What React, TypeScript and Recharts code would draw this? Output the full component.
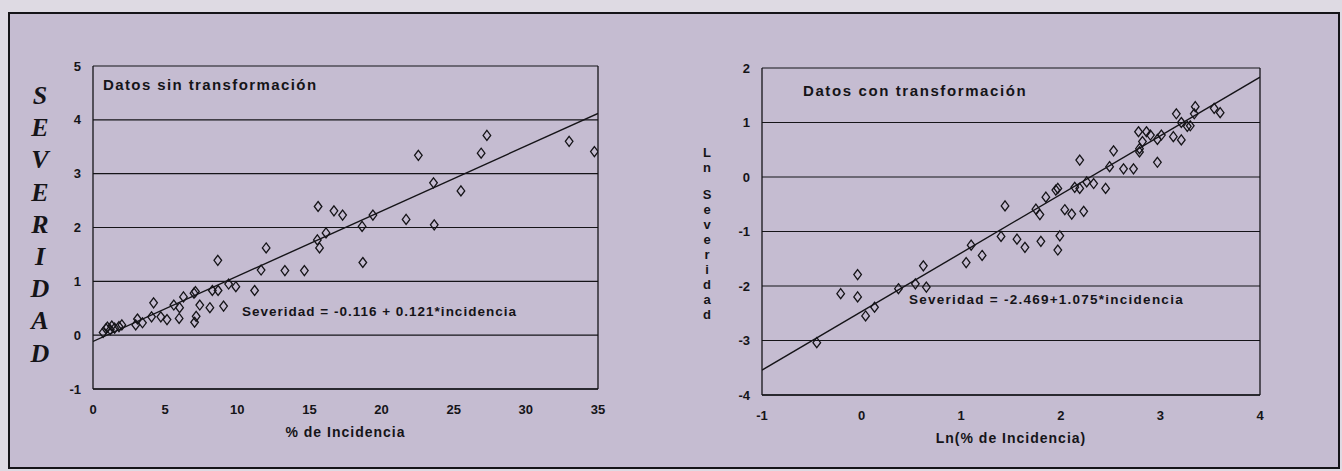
import React from "react"
import {
  ScatterChart,
  Scatter,
  XAxis,
  YAxis,
  CartesianGrid,
  ReferenceLine,
} from "recharts"

// Datos sin transformación (% de incidencia vs severidad)
const incidencia = [
  0.7, 0.9, 1.0, 1.2, 1.3, 1.5, 1.8, 2.0, 2.96, 3.08, 3.43, 4.06, 4.2, 4.7, 5.13,
  5.6, 5.97, 6.0, 6.27, 7.0, 7.1, 7.04, 7.15, 7.4, 8.1, 8.27, 8.67, 8.65, 9.05,
  9.4, 9.9, 11.2, 11.65, 12.0, 13.3, 14.65, 15.55, 15.6, 15.7, 16.15, 16.7, 17.3,
  18.65, 18.7, 19.4, 21.7, 22.55, 23.6, 23.65, 25.5, 26.9, 27.3, 33.0, 34.75,
]
const severidad = [
  0.05, 0.12, 0.15, 0.1, 0.17, 0.13, 0.16, 0.19, 0.19, 0.3, 0.23, 0.34, 0.6, 0.34,
  0.29, 0.56, 0.31, 0.51, 0.71, 0.78, 0.81, 0.24, 0.35, 0.56, 0.51, 0.83, 0.83,
  1.39, 0.54, 0.95, 0.9, 0.83, 1.21, 1.62, 1.2, 1.2, 1.77, 2.39, 1.62, 1.9, 2.31,
  2.23, 2.02, 1.35, 2.23, 2.15, 3.34, 2.83, 2.05, 2.68, 3.38, 3.71, 3.6, 3.41,
]

// Datos con transformación (logaritmos)
const lnIncidencia = [
  -0.45, -0.21, -0.04, -0.04, 0.04, 0.13, 0.37, 0.54, 0.65, 0.62, 1.05, 1.1, 1.21,
  1.4, 1.44, 1.56, 1.64, 1.75, 1.79, 1.8, 1.85, 1.95, 1.97, 2.04, 2.11, 2.23, 1.99,
  1.97, 2.14, 2.19, 2.19, 2.26, 2.33, 2.45, 2.49, 2.53, 2.63, 2.73, 2.79, 2.79,
  2.78, 2.82, 2.86, 2.9, 2.97, 3.01, 2.97, 3.13, 3.21, 3.16, 3.21, 3.27, 3.3, 3.34,
  3.35, 3.54, 3.6,
]
const lnSeveridad = [
  -3.04, -2.14, -1.79, -2.2, -2.55, -2.39, -2.05, -1.96, -2.02, -1.63, -1.57,
  -1.25, -1.44, -1.09, -0.53, -1.14, -1.29, -0.59, -0.69, -1.18, -0.37, -0.24,
  -0.21, -0.6, -0.68, -0.63, -1.08, -1.34, -0.19, -0.21, 0.31, -0.09, -0.12, -0.21,
  0.19, 0.48, 0.15, 0.15, 0.52, 0.46, 0.83, 0.65, 0.83, 0.77, 0.69, 0.77, 0.27,
  0.74, 0.68, 1.16, 1.0, 0.93, 0.94, 1.16, 1.29, 1.26, 1.18,
]

// regresiones
const fitLeftX = [0, 35]
const fitLeft = { a: -0.116, b: 0.121 }
const fitRightX = [-1, 4]
const fitRight = { a: -2.469, b: 1.075 }

const leftXTicks = [0, 5, 10, 15, 20, 25, 30, 35]
const leftYTicks = [-1, 0, 1, 2, 3, 4, 5]
const rightXTicks = [-1, 0, 1, 2, 3, 4]
const rightYTicks = [-4, -3, -2, -1, 0, 1, 2]

const INK = "#151418"
const BG = "#c5bcd1"
const SANS = "'Liberation Sans', Arial, sans-serif"

const tickStyle = { fill: INK, fontSize: 13, fontWeight: 700, fontFamily: SANS }

const Diamond = (props: any) => {
  const { cx, cy } = props
  if (cx == null || cy == null) return <g />
  return (
    <path
      d={`M${cx},${cy - 5} L${cx + 3.8},${cy} L${cx},${cy + 5} L${cx - 3.8},${cy} Z`}
      fill="none"
      stroke={INK}
      strokeWidth={1.3}
    />
  )
}

const NoDot = () => <g />

const pairs = (xs: number[], ys: number[]) => xs.map((x, i) => ({ x, y: ys[i] }))
const fitLine = (xs: number[], f: { a: number; b: number }) =>
  xs.map((x) => ({ x, y: f.a + f.b * x }))

const textBase: React.CSSProperties = {
  position: "absolute",
  fontFamily: SANS,
  fontWeight: 700,
  color: INK,
  whiteSpace: "nowrap",
  lineHeight: 1,
}

function Panel({
  left,
  top,
  width,
  height,
  data,
  fit,
  xDomain,
  yDomain,
  xTicks,
  yTicks,
  xLabel,
}: {
  left: number
  top: number
  width: number
  height: number
  data: { x: number; y: number }[]
  fit: { x: number; y: number }[]
  xDomain: [number, number]
  yDomain: [number, number]
  xTicks: number[]
  yTicks: number[]
  xLabel: string
}) {
  return (
    <div style={{ position: "absolute", left, top }}>
      <ScatterChart
        width={width}
        height={height}
        margin={{ top: 10, right: 15, left: 0, bottom: 5 }}
      >
        <CartesianGrid vertical={false} stroke={INK} strokeWidth={1.2} />
        <XAxis
          type="number"
          dataKey="x"
          domain={xDomain}
          ticks={xTicks}
          allowDataOverflow
          height={50}
          tickLine={false}
          tickMargin={10}
          axisLine={{ stroke: INK, strokeWidth: 1.3 }}
          tick={tickStyle}
          label={{
            value: xLabel,
            position: "insideBottom",
            offset: 2,
            style: {
              fill: INK,
              fontSize: 14,
              fontWeight: 700,
              fontFamily: SANS,
              letterSpacing: 1,
            },
          }}
        />
        <YAxis
          type="number"
          dataKey="y"
          domain={yDomain}
          ticks={yTicks}
          allowDataOverflow
          width={50}
          tickLine={false}
          tickMargin={6}
          axisLine={{ stroke: INK, strokeWidth: 1.3 }}
          tick={tickStyle}
        />
        <ReferenceLine x={xDomain[1]} stroke={INK} strokeWidth={1.3} />
        <Scatter
          data={fit}
          line={{ stroke: INK, strokeWidth: 1.4 }}
          lineType="joint"
          shape={NoDot}
          isAnimationActive={false}
        />
        <Scatter data={data} shape={Diamond} isAnimationActive={false} />
      </ScatterChart>
    </div>
  )
}

const severidadLetters = ["S", "E", "V", "E", "R", "I", "D", "A", "D"]
const lnLetters = ["L", "n", " ", "S", "e", "v", "e", "r", "i", "d", "a", "d"]

export default function App() {
  return (
    <div
      style={{
        position: "absolute",
        left: 0,
        top: 0,
        width: 1342,
        height: 471,
        background: "#dedae3",
        overflow: "hidden",
      }}
    >
      <div
        style={{
          position: "absolute",
          left: 8,
          top: 12,
          width: 1328,
          height: 453,
          background: BG,
          border: `2px solid ${INK}`,
        }}
      />

      {/* eje vertical izquierdo */}
      <div
        style={{
          position: "absolute",
          left: 26,
          top: 80,
          width: 28,
          fontFamily: "'Liberation Serif', 'DejaVu Serif', serif",
          fontStyle: "italic",
          fontWeight: 700,
          fontSize: 26,
          lineHeight: "32.2px",
          color: INK,
          textAlign: "center",
        }}
      >
        {severidadLetters.map((c, i) => (
          <div key={i}>{c}</div>
        ))}
      </div>

      <div
        style={{
          position: "absolute",
          left: 699,
          top: 145,
          width: 16,
          fontFamily: SANS,
          fontWeight: 700,
          fontSize: 13,
          lineHeight: "15px",
          color: INK,
          textAlign: "center",
        }}
      >
        {lnLetters.map((c, i) => (
          <div key={i} style={{ height: c === " " ? 12 : 15 }}>
            {c === " " ? "\u00a0" : c}
          </div>
        ))}
      </div>

      <Panel
        left={43}
        top={56}
        width={570}
        height={388}
        data={pairs(incidencia, severidad)}
        fit={fitLine(fitLeftX, fitLeft)}
        xDomain={[0, 35]}
        yDomain={[-1, 5]}
        xTicks={leftXTicks}
        yTicks={leftYTicks}
        xLabel="% de Incidencia"
      />
      <Panel
        left={712}
        top={58}
        width={563}
        height={392}
        data={pairs(lnIncidencia, lnSeveridad)}
        fit={fitLine(fitRightX, fitRight)}
        xDomain={[-1, 4]}
        yDomain={[-4, 2]}
        xTicks={rightXTicks}
        yTicks={rightYTicks}
        xLabel="Ln(% de Incidencia)"
      />

      <div style={{ ...textBase, left: 103, top: 77, fontSize: 15, letterSpacing: 1.4 }}>
        Datos sin transformación
      </div>
      <div style={{ ...textBase, left: 803, top: 83, fontSize: 15, letterSpacing: 1.6 }}>
        Datos con transformación
      </div>
      <div style={{ ...textBase, left: 242, top: 305, fontSize: 13.5, letterSpacing: 1 }}>
        Severidad = -0.116 + 0.121*incidencia
      </div>
      <div style={{ ...textBase, left: 909, top: 293, fontSize: 13.5, letterSpacing: 1.25 }}>
        Severidad = -2.469+1.075*incidencia
      </div>
    </div>
  )
}
